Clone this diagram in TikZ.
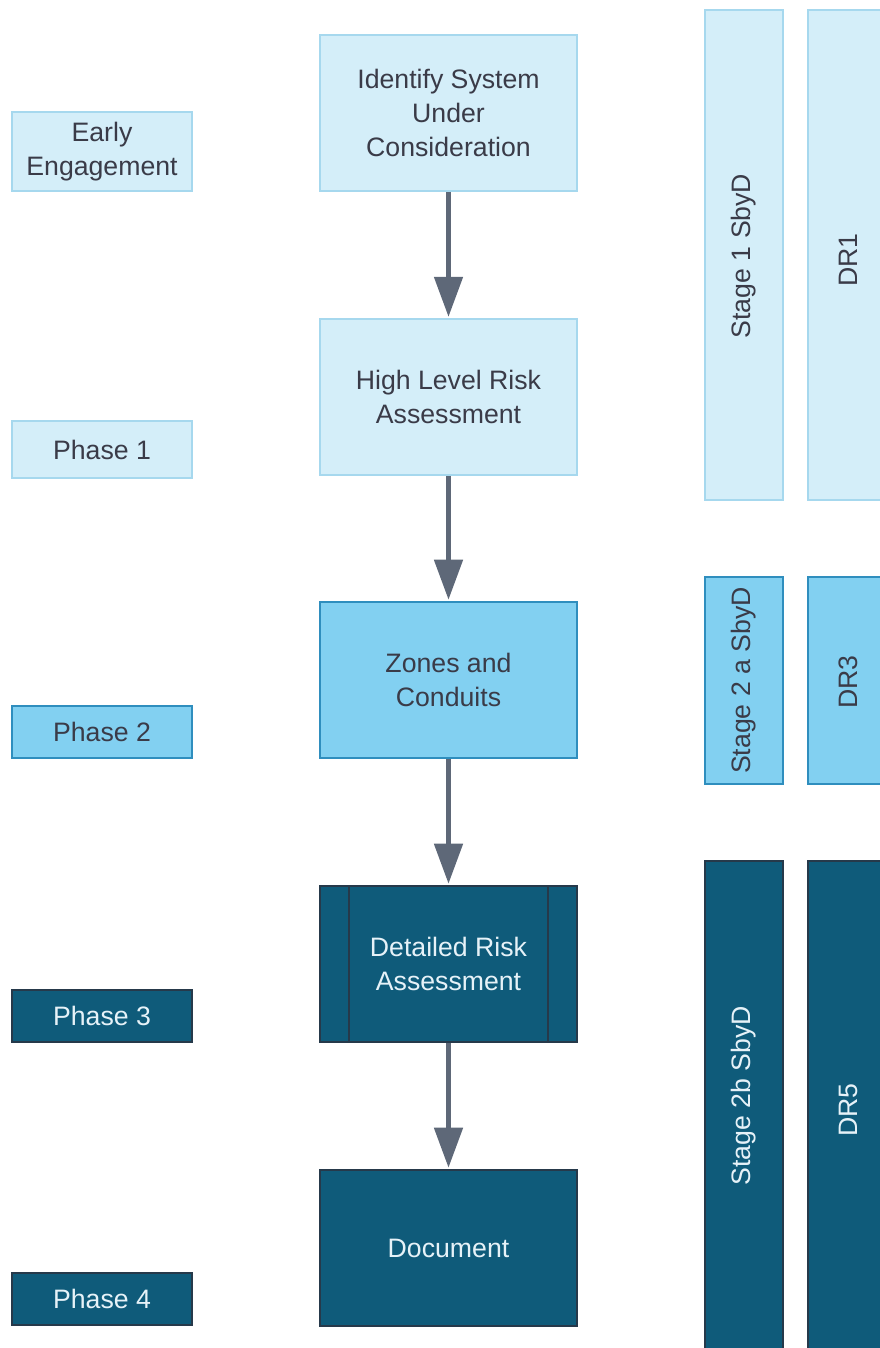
\documentclass[tikz,border=0pt]{standalone}
\usepackage{fontspec}
\setmainfont{Liberation Sans}
\usetikzlibrary{arrows.meta}

\definecolor{paleblue}{HTML}{D4EEF9}
\definecolor{paleline}{HTML}{A6D8EE}
\definecolor{midblue}{HTML}{82D0F1}
\definecolor{midline}{HTML}{2F8EBE}
\definecolor{deepblue}{HTML}{0F5B7A}
\definecolor{deepline}{HTML}{26394A}
\definecolor{arrowgrey}{HTML}{5E6878}
\definecolor{inkdark}{HTML}{3A3B48}
\definecolor{inklight}{HTML}{E6F2F8}

\tikzset{
  pale/.style={draw=paleline, fill=paleblue, text=inkdark, line width=1.2pt},
  mid/.style={draw=midline, fill=midblue, text=inkdark, line width=1.4pt},
  deep/.style={draw=deepline, fill=deepblue, text=inklight, line width=1.4pt},
  phasebox/.style={minimum width=135pt, inner sep=0pt, align=center},
  stepbox/.style={minimum width=192.75pt, minimum height=117pt, inner sep=0pt, align=center},
  stagebar/.style={minimum width=58.5pt, inner sep=0pt},
  drbar/.style={minimum width=60pt, inner sep=0pt},
  flow/.style={draw=arrowgrey, line width=3.6pt, -{Triangle[length=30pt,width=21pt]}, shorten >=1pt},
  vtext/.style={rotate=90, text=inkdark, inner sep=0pt}
}

\begin{document}
\begin{tikzpicture}[x=0.75pt,y=0.75pt,yscale=-1,
  font=\fontsize{20}{25.5}\selectfont]
\useasboundingbox (0,0) rectangle (879,1348);

%Shape: Phase labels
\node [pale, phasebox, minimum height=59.25pt] (early) at (102,151.5) {Early\\Engagement};
\node [pale, phasebox, minimum height=42.75pt] (ph1) at (102,449.5) {Phase  1};
\node [mid, phasebox, minimum height=39pt] (ph2) at (102,732) {Phase  2};
\node [deep, phasebox, minimum height=39pt] (ph3) at (102,1016) {Phase  3};
\node [deep, phasebox, minimum height=39pt] (ph4) at (102,1299) {Phase  4};

%Shape: Process steps
\node [pale, stepbox] (identify) at (448.5,113) {Identify System\\Under\\Consideration};
\node [pale, stepbox] (highlevel) at (448.5,397) {High Level Risk\\Assessment};
\node [mid, stepbox] (zones) at (448.5,680) {Zones and\\Conduits};
\node [deep, stepbox] (detailed) at (448.5,964) {Detailed Risk\\Assessment};
\node [deep, stepbox] (document) at (448.5,1248) {Document};
\draw [deepline, line width=1.4pt] ([xshift=22.5pt]detailed.north west) -- ([xshift=22.5pt]detailed.south west);
\draw [deepline, line width=1.4pt] ([xshift=-22.5pt]detailed.north east) -- ([xshift=-22.5pt]detailed.south east);

%Straight Lines: flow
\draw [flow] (identify) -- (highlevel);
\draw [flow] (highlevel) -- (zones);
\draw [flow] (zones) -- (detailed);
\draw [flow] (detailed) -- (document);

%Shape: Stage bars
\node [pale, stagebar, minimum height=367.5pt] (stage1) at (744,255) {};
\node [pale, drbar, minimum height=367.5pt] (dr1) at (848,255) {};
\node [mid, stagebar, minimum height=155.25pt] (stage2a) at (744,680.5) {};
\node [mid, drbar, minimum height=155.25pt] (dr3) at (848,680.5) {};
\node [deep, stagebar, minimum height=374.25pt] (stage2b) at (744,1110.5) {};
\node [deep, drbar, minimum height=374.25pt] (dr5) at (848,1110.5) {};

% Text Node
\node [vtext] (stage1txt) at (744,256) {Stage 1 SbyD};
% Text Node
\node [vtext] (dr1txt) at (848,260) {DR1};
% Text Node
\node [vtext] (stage2atxt) at (744,680.5) {Stage 2 a SbyD};
% Text Node
\node [vtext] (dr3txt) at (848,682) {DR3};
% Text Node
\node [vtext, text=inklight] (stage2btxt) at (744,1096) {Stage 2b SbyD};
% Text Node
\node [vtext, text=inklight] (dr5txt) at (848,1110) {DR5};

\end{tikzpicture}
\end{document}
